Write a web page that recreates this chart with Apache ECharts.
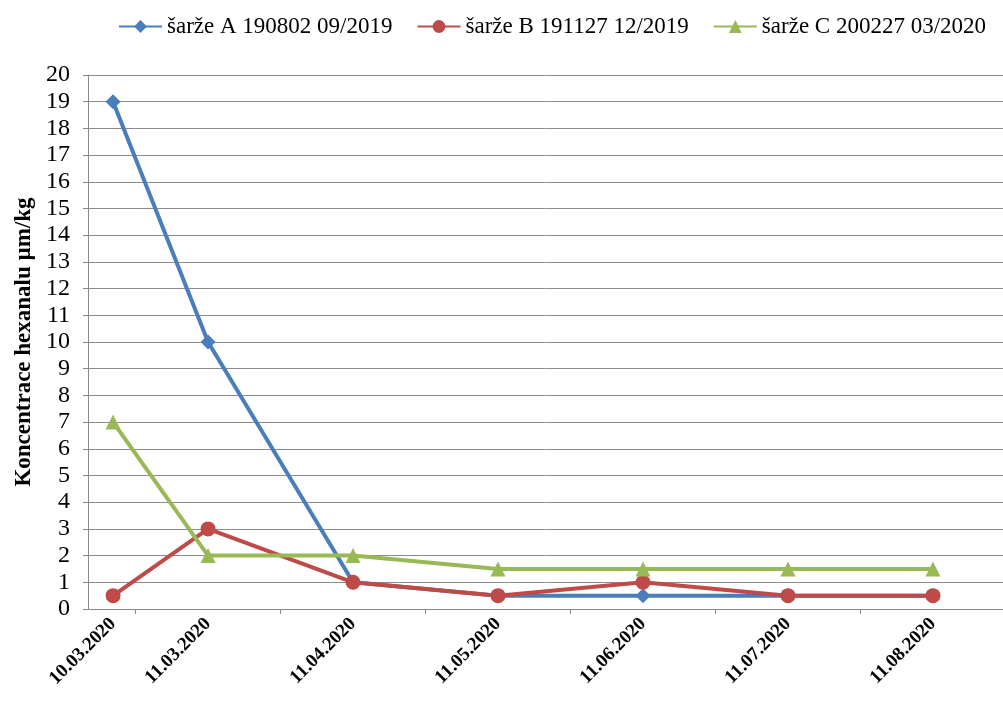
<!DOCTYPE html>
<html>
<head>
<meta charset="utf-8">
<script src="https://cdn.jsdelivr.net/npm/echarts@6/dist/echarts.min.js"></script>
<style>
  html, body { margin: 0; padding: 0; background: #fff; }
  #chart { width: 1003px; height: 706px; }
</style>
</head>
<body>
<div id="chart"></div>
<script>
// Sampling dates and where each falls on the month-slot scale
const dateLabels = ['10.03.2020', '11.03.2020', '11.04.2020', '11.05.2020', '11.06.2020', '11.07.2020', '11.08.2020'];
const datePos = [0.345, 1, 2, 3, 4, 5, 6];
// Tick marks sit between the monthly slots
const tickPos = [0.5, 1.5, 2.5, 3.5, 4.5, 5.5];

// Hexanal concentration per batch (µm/kg)
const batchA = [19, 10, 1, 0.5, 0.5, 0.5, 0.5];
const batchB = [0.5, 3, 1, 0.5, 1, 0.5, 0.5];
const batchC = [7, 2, 2, 1.5, 1.5, 1.5, 1.5];

const seriesNames = ['šarže A 190802 09/2019', 'šarže B 191127 12/2019', 'šarže C 200227 03/2020'];
const yTicks = { min: 0, max: 20, interval: 1 };

const serif = '"Liberation Serif", "DejaVu Serif", serif';

function pairs(values) {
  return values.map((v, i) => [datePos[i], v]);
}

const chart = echarts.init(document.getElementById('chart'), null, { renderer: 'canvas' });

chart.setOption({
  animation: false,
  backgroundColor: '#ffffff',
  legend: {
    top: 10,
    left: 113,
    itemWidth: 43,
    itemHeight: 16,
    itemGap: 24,
    textStyle: { fontFamily: serif, fontSize: 23, color: '#000' },
    data: seriesNames
  },
  grid: { left: 88, right: 0, top: 75, bottom: 97, containLabel: false },
  xAxis: {
    type: 'value',
    min: 0.172,
    max: 6.483,
    axisLine: { show: true, lineStyle: { color: '#8a8a8a', width: 1 } },
    axisTick: {
      show: true,
      length: 5,
      customValues: tickPos,
      lineStyle: { color: '#8a8a8a' }
    },
    splitLine: { show: false },
    axisLabel: {
      customValues: datePos,
      rotate: 45,
      margin: 12,
      fontFamily: serif,
      fontSize: 19,
      fontWeight: 'bold',
      color: '#000',
      formatter: function (v) {
        const idx = datePos.findIndex(p => Math.abs(p - v) < 1e-6);
        return idx >= 0 ? dateLabels[idx] : '';
      }
    }
  },
  yAxis: {
    type: 'value',
    min: yTicks.min,
    max: yTicks.max,
    interval: yTicks.interval,
    name: 'Koncentrace hexanalu µm/kg',
    nameLocation: 'middle',
    nameGap: 51,
    nameTextStyle: { fontFamily: serif, fontSize: 23, fontWeight: 'bold', color: '#000' },
    axisLine: { show: true, lineStyle: { color: '#8a8a8a', width: 1 } },
    axisTick: { show: true, length: 5, lineStyle: { color: '#8a8a8a' } },
    axisLabel: { fontFamily: serif, fontSize: 24, color: '#000', margin: 18 },
    splitLine: { show: true, lineStyle: { color: '#8c8c8c', width: 1 } }
  },
  series: [
    {
      name: seriesNames[0],
      type: 'line',
      data: pairs(batchA),
      symbol: 'diamond',
      symbolSize: 15,
      lineStyle: { width: 4, color: '#4a7ebb' },
      itemStyle: { color: '#4a7ebb' }
    },
    {
      name: seriesNames[1],
      type: 'line',
      data: pairs(batchB),
      symbol: 'circle',
      symbolSize: 15,
      lineStyle: { width: 4, color: '#be4b48' },
      itemStyle: { color: '#be4b48' }
    },
    {
      name: seriesNames[2],
      type: 'line',
      data: pairs(batchC),
      symbol: 'triangle',
      symbolSize: 15,
      lineStyle: { width: 4, color: '#98b954' },
      itemStyle: { color: '#98b954' }
    }
  ]
});
</script>
</body>
</html>
